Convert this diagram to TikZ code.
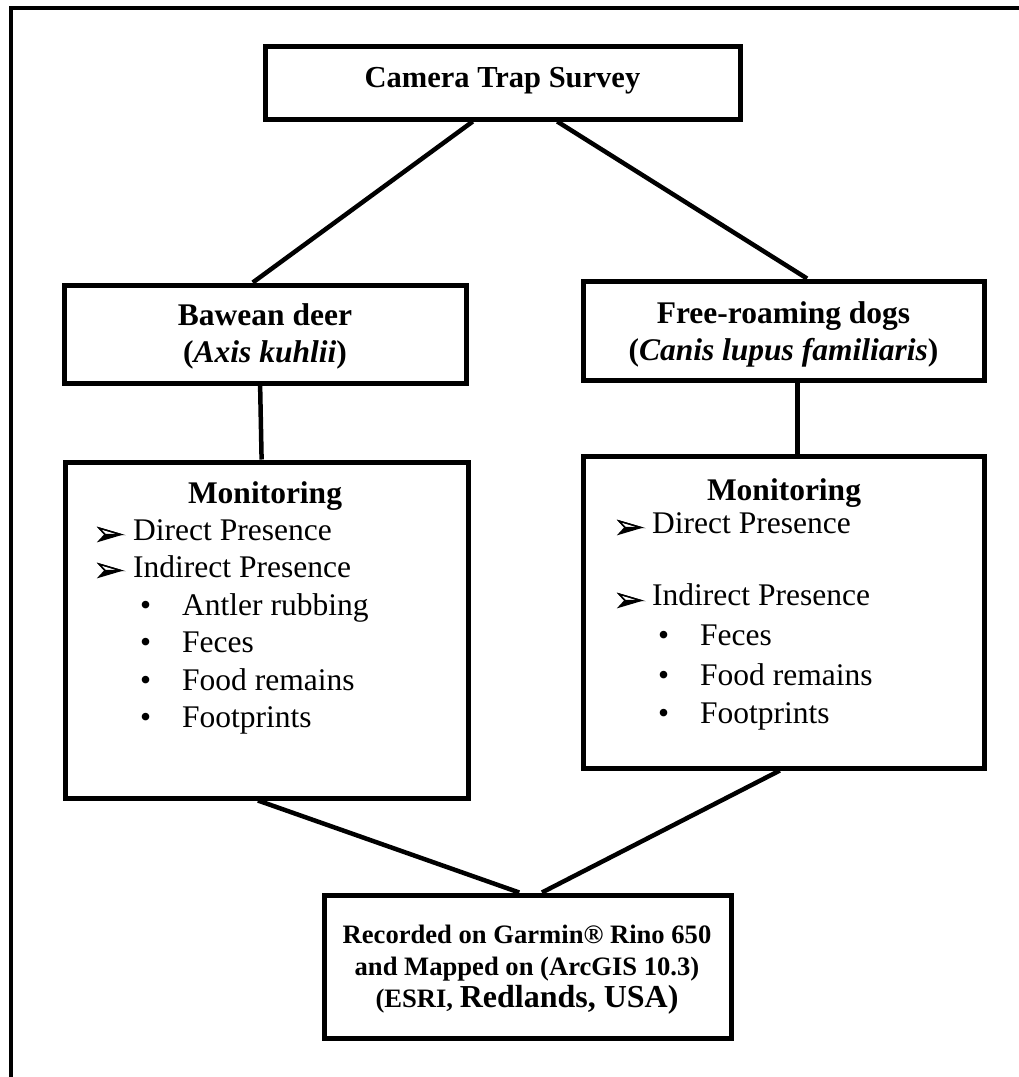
\documentclass[tikz,border=0pt]{standalone}
\usepackage{fontspec}
\setmainfont{Liberation Serif}
\usetikzlibrary{calc}
\tikzset{
  box/.style={draw, line width=5pt, rectangle, inner sep=0pt, align=center},
  conn/.style={line width=4.5pt},
  frameline/.style={line width=4pt},
  hd/.style={anchor=base, inner sep=0pt, font=\fontsize{31.5}{37.5}\selectfont\bfseries},
  itm/.style={anchor=base west, inner sep=0pt, font=\fontsize{31.5}{37.5}\selectfont},
  rectxt/.style={anchor=base, inner sep=0pt, font=\fontsize{26.6}{32}\selectfont\bfseries},
  arrowhd/.pic={
    \fill[black] (6,0) -- (22,0) -- (0,6.5) -- cycle;
    \draw[line width=1.4pt, line join=miter, fill=white] (0,-6.5) -- (22,0) -- (6,0) -- cycle;
    \draw[line width=1.4pt, line join=miter] (0,-6.5) -- (22,0) -- (0,6.5) -- (6,0) -- cycle;
  },
}
\newcommand{\bul}{\textbullet}
\begin{document}
\begin{tikzpicture}[x=1pt,y=-1pt]
\useasboundingbox (0,0) rectangle (1019,1077);
% outer frame (top and left)
\coordinate (fbl) at (11,1077);
\coordinate (ftl) at (11,8);
\coordinate (ftr) at (1019,8);
\draw[frameline] (fbl) -- (ftl) -- (ftr);

% boxes
\node[box, minimum width=475pt, minimum height=73pt] (cam) at (502.5,82.5) {};
\node[box, minimum width=402pt, minimum height=98pt] (baw) at (265,334) {};
\node[box, minimum width=401pt, minimum height=99pt] (free) at (783.5,330.5) {};
\node[box, minimum width=403pt, minimum height=336pt] (monL) at (266.5,630) {};
\node[box, minimum width=401pt, minimum height=312pt] (monR) at (783.5,612) {};
\node[box, minimum width=407pt, minimum height=143pt] (rec) at (527.5,966.5) {};

% texts
\node[hd, font=\fontsize{30.5}{36}\selectfont\bfseries] (camt) at (502.5,87) {Camera Trap Survey};
\node[hd] (bawt1) at (265,325) {Bawean deer};
\node[hd] (bawt2) at (265,362) {(\textit{Axis kuhlii})};
\node[hd] (freet1) at (783.5,323) {Free-roaming dogs};
\node[hd] (freet2) at (783.5,360) {(\textit{Canis lupus familiaris})};

% left monitoring
\node[hd] (mlh) at (265,503) {Monitoring};
\pic at (99,534.5) {arrowhd};
\node[itm] (ml1) at (133,540) {Direct Presence};
\pic at (99,570.5) {arrowhd};
\node[itm] (ml2) at (133,577) {Indirect Presence};
\node[itm] (mlb1) at (140,615) {\bul};
\node[itm] (ml3) at (182,615) {Antler rubbing};
\node[itm] (mlb2) at (140,652) {\bul};
\node[itm] (ml4) at (182,652) {Feces};
\node[itm] (mlb3) at (140,690) {\bul};
\node[itm] (ml5) at (182,690) {Food remains};
\node[itm] (mlb4) at (140,727) {\bul};
\node[itm] (ml6) at (182,727) {Footprints};

% right monitoring
\node[hd] (mrh) at (784,500) {Monitoring};
\pic at (619,527.5) {arrowhd};
\node[itm] (mr1) at (652,533) {Direct Presence};
\pic at (619,600.5) {arrowhd};
\node[itm] (mr2) at (652,605) {Indirect Presence};
\node[itm] (mrb1) at (658,645) {\bul};
\node[itm] (mr3) at (700,645) {Feces};
\node[itm] (mrb2) at (658,685) {\bul};
\node[itm] (mr4) at (700,685) {Food remains};
\node[itm] (mrb3) at (658,723) {\bul};
\node[itm] (mr5) at (700,723) {Footprints};

% recorded box
\node[rectxt] (rt1) at (527,943) {Recorded on Garmin® Rino 650};
\node[rectxt] (rt2) at (527,975) {and Mapped on (ArcGIS 10.3)};
\node[rectxt] (rt3) at (527,1007) {(ESRI, {\fontsize{32}{32}\selectfont Redlands, USA)}};

% connectors
\draw[conn] ($(cam.south west)!0.438!(cam.south east)$) -- ($(baw.north west)!0.47!(baw.north east)$);
\draw[conn] ($(cam.south west)!0.614!(cam.south east)$) -- ($(free.north west)!0.558!(free.north east)$);
\draw[conn] ($(baw.south west)!0.488!(baw.south east)$) -- ($(monL.north west)!0.488!(monL.north east)$);
\draw[conn] ($(free.south west)!0.534!(free.south east)$) -- ($(monR.north west)!0.534!(monR.north east)$);
\draw[conn] ($(monL.south west)!0.479!(monL.south east)$) -- ($(rec.north west)!0.48!(rec.north east)$);
\draw[conn] ($(monR.south west)!0.491!(monR.south east)$) -- ($(rec.north west)!0.535!(rec.north east)$);
\end{tikzpicture}
\end{document}
